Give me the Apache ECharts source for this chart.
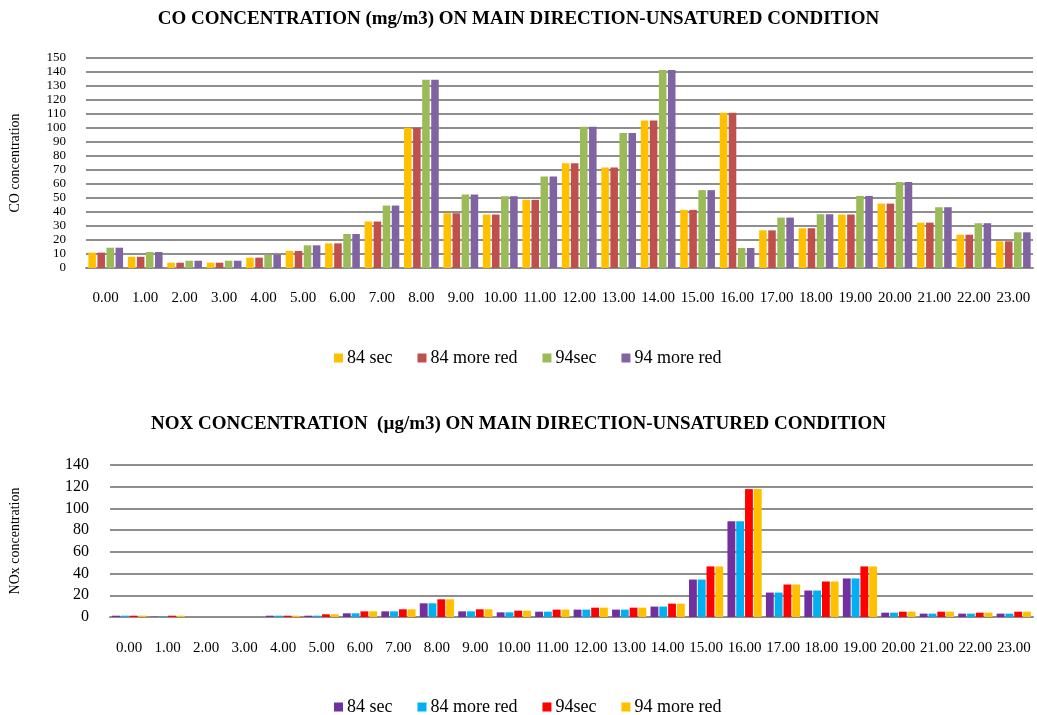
<!DOCTYPE html>
<html>
<head>
<meta charset="utf-8">
<script src="https://cdn.jsdelivr.net/npm/echarts@6/dist/echarts.min.js"></script>
<style>
  html, body { margin: 0; padding: 0; background: #fff; }
  #co { position: absolute; left: 0; top: 0; width: 1037px; height: 390px; }
  #nox { position: absolute; left: 0; top: 390px; width: 1037px; height: 325px; }
</style>
</head>
<body>
<div id="co"></div>
<div id="nox"></div>
<script>
// hours of the day
const hours = ['0.00','1.00','2.00','3.00','4.00','5.00','6.00','7.00','8.00','9.00','10.00','11.00',
  '12.00','13.00','14.00','15.00','16.00','17.00','18.00','19.00','20.00','21.00','22.00','23.00'];

// CO (mg/m3)
const co84sec = [11,8,3.8,3.8,7.4,12.2,17.6,33.2,100.2,39.1,38.2,48.7,74.9,71.8,105.4,41.5,110.9,26.9,28.4,38.2,46,32.4,23.8,19.1];
const co84red = [11,8,3.8,3.8,7.4,12.2,17.6,33.2,100.2,39.1,38.2,48.7,74.9,71.8,105.4,41.5,110.9,26.9,28.4,38.2,46,32.4,23.8,19.1];
const co94sec = [14.5,11.4,5.2,5.2,9.5,16.2,24.3,44.6,134.5,52.5,51.3,65.3,100.9,96.4,141.4,55.6,14.3,36,38.4,51.5,61.5,43.4,32,25.5];
const co94red = [14.5,11.4,5.2,5.2,9.5,16.2,24.3,44.6,134.5,52.5,51.3,65.3,100.9,96.4,141.4,55.6,14.3,36,38.4,51.5,61.5,43.4,32,25.5];

// NOx (µg/m3)
const nox84sec = [1.2,0.3,0,0,1.2,1.2,3.4,5.2,12.6,5.2,4.3,4.9,6.8,6.8,9.6,34.5,88.2,22.5,24.4,35.5,4.0,3.1,3.1,3.1];
const nox84red = [1.2,0.3,0,0,1.2,1.2,3.4,5.2,12.6,5.2,4.3,4.9,6.8,6.8,9.6,34.5,88.2,22.5,24.4,35.5,4.0,3.1,3.1,3.1];
const nox94sec = [1.2,1.2,0,0,1.2,2.5,5.2,7.1,16.3,7.1,5.8,6.8,8.6,8.6,12.3,46.6,117.8,29.9,32.7,46.6,4.9,4.9,4.0,4.9];
const nox94red = [1.2,1.2,0,0,1.2,2.5,5.2,7.1,16.3,7.1,5.8,6.8,8.6,8.6,12.3,46.6,117.8,29.9,32.7,46.6,4.9,4.9,4.0,4.9];

const legendNames = ['84 sec', '84 more red', '94sec', '94 more red'];

const font = "'Liberation Serif', 'Times New Roman', serif";
const gridColor = '#8e8e8e';

function bar(name, data, color, gap, catGap) {
  return {
    name: name,
    type: 'bar',
    data: data,
    itemStyle: { color: color },
    barGap: gap,
    barCategoryGap: catGap
  };
}

function legend(top) {
  return {
    top: top,
    left: 329,
    itemWidth: 9,
    itemHeight: 9,
    itemGap: 25,
    icon: 'rect',
    textStyle: { fontFamily: font, fontSize: 18, color: '#000', padding: [0, 0, 0, -1] },
    data: legendNames
  };
}

const coChart = echarts.init(document.getElementById('co'));
coChart.setOption({
  animation: false,
  textStyle: { fontFamily: font },
  title: {
    text: 'CO CONCENTRATION (mg/m3) ON MAIN DIRECTION-UNSATURED CONDITION',
    left: 'center',
    top: 5,
    textStyle: { fontFamily: font, fontSize: 19, fontWeight: 'bold', color: '#000' }
  },
  legend: legend(344),
  grid: { left: 85, right: 4, top: 58, height: 210 },
  xAxis: {
    type: 'category',
    data: hours,
    axisLine: { lineStyle: { color: gridColor, width: 2 } },
    axisTick: { show: false },
    axisLabel: { color: '#000', fontSize: 15, fontFamily: font, margin: 23, interval: 0 }
  },
  yAxis: {
    type: 'value',
    min: 0,
    max: 150,
    interval: 10,
    name: 'CO concentration',
    nameLocation: 'middle',
    nameGap: 64,
    nameTextStyle: { fontFamily: font, fontSize: 14, color: '#000' },
    axisLine: { show: false },
    axisTick: { show: false },
    axisLabel: { color: '#000', fontSize: 13, fontFamily: font, margin: 20 },
    splitLine: { lineStyle: { color: gridColor, width: 2 } }
  },
  series: [
    bar('84 sec', co84sec, '#FFC000', '20%', '12%'),
    bar('84 more red', co84red, '#C0504D', '20%', '12%'),
    bar('94sec', co94sec, '#9BBB59', '20%', '12%'),
    bar('94 more red', co94red, '#8064A2', '20%', '12%')
  ]
});

const noxChart = echarts.init(document.getElementById('nox'));
noxChart.setOption({
  animation: false,
  textStyle: { fontFamily: font },
  title: {
    text: 'NOX CONCENTRATION  (\u00b5g/m3) ON MAIN DIRECTION-UNSATURED CONDITION',
    left: 'center',
    top: 20,
    textStyle: { fontFamily: font, fontSize: 19, fontWeight: 'bold', color: '#000' }
  },
  legend: legend(303),
  grid: { left: 108, right: 4, top: 75, height: 152 },
  xAxis: {
    type: 'category',
    data: hours,
    axisLine: { lineStyle: { color: gridColor, width: 2 } },
    axisTick: { show: false },
    axisLabel: { color: '#000', fontSize: 15, fontFamily: font, margin: 24, interval: 0 }
  },
  yAxis: {
    type: 'value',
    min: 0,
    max: 140,
    interval: 20,
    name: 'NOx concentration',
    nameLocation: 'middle',
    nameGap: 88,
    nameTextStyle: { fontFamily: font, fontSize: 14, color: '#000' },
    axisLine: { show: false },
    axisTick: { show: false },
    axisLabel: { color: '#000', fontSize: 16, fontFamily: font, margin: 21 },
    splitLine: { lineStyle: { color: gridColor, width: 2 } }
  },
  series: [
    bar('84 sec', nox84sec, '#7030A0', '12%', '11%'),
    bar('84 more red', nox84red, '#00B0F0', '12%', '11%'),
    bar('94sec', nox94sec, '#FF0000', '12%', '11%'),
    bar('94 more red', nox94red, '#FFC000', '12%', '11%')
  ]
});
</script>
</body>
</html>
